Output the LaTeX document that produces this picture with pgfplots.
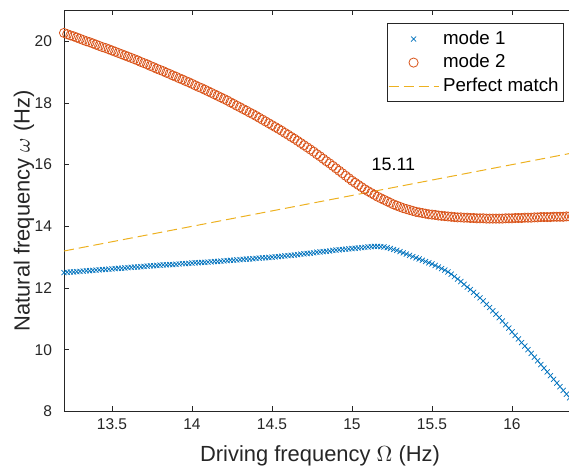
\documentclass[border=0pt]{standalone}
\usepackage{pgfplots}
\pgfplotsset{compat=1.18}
\usepackage{fontspec}
\setmainfont{Liberation Sans}

\definecolor{mblue}{rgb}{0,0.447,0.741}
\definecolor{morange}{rgb}{0.85,0.325,0.098}
\definecolor{myellow}{rgb}{0.929,0.694,0.125}
\definecolor{axgray}{rgb}{0.15,0.15,0.15}

% mode 1 (crosses)
\pgfplotstableread{
x y
13.20 12.50
13.22 12.51
13.24 12.52
13.26 12.52
13.28 12.53
13.30 12.54
13.32 12.55
13.34 12.56
13.36 12.56
13.38 12.57
13.40 12.58
13.42 12.59
13.44 12.60
13.46 12.60
13.48 12.61
13.50 12.62
13.52 12.63
13.54 12.64
13.56 12.64
13.58 12.65
13.60 12.66
13.62 12.67
13.64 12.68
13.66 12.68
13.68 12.69
13.70 12.70
13.72 12.71
13.74 12.72
13.76 12.72
13.78 12.73
13.80 12.74
13.82 12.75
13.84 12.75
13.86 12.76
13.88 12.76
13.90 12.77
13.92 12.78
13.94 12.79
13.96 12.79
13.98 12.80
14.00 12.81
14.02 12.82
14.04 12.82
14.06 12.83
14.08 12.83
14.10 12.84
14.12 12.85
14.14 12.86
14.16 12.86
14.18 12.87
14.20 12.88
14.22 12.89
14.24 12.90
14.26 12.90
14.28 12.91
14.30 12.92
14.32 12.93
14.34 12.94
14.36 12.94
14.38 12.95
14.40 12.96
14.42 12.97
14.44 12.98
14.46 12.98
14.48 12.99
14.50 13.00
14.52 13.01
14.54 13.02
14.56 13.03
14.58 13.04
14.60 13.05
14.62 13.06
14.64 13.07
14.66 13.08
14.68 13.10
14.70 13.11
14.72 13.12
14.74 13.13
14.76 13.14
14.78 13.16
14.80 13.17
14.82 13.18
14.84 13.19
14.86 13.20
14.88 13.22
14.90 13.23
14.92 13.24
14.94 13.25
14.96 13.26
14.98 13.27
15.00 13.28
15.02 13.29
15.04 13.30
15.06 13.31
15.08 13.32
15.10 13.33
15.12 13.34
15.14 13.35
15.16 13.35
15.18 13.34
15.20 13.33
15.22 13.31
15.24 13.28
15.26 13.25
15.28 13.22
15.30 13.18
15.32 13.14
15.34 13.10
15.36 13.06
15.38 13.02
15.40 12.98
15.42 12.94
15.44 12.90
15.46 12.86
15.48 12.82
15.50 12.78
15.52 12.73
15.54 12.68
15.56 12.63
15.58 12.58
15.60 12.52
15.62 12.45
15.64 12.37
15.66 12.29
15.68 12.21
15.70 12.12
15.72 12.03
15.74 11.95
15.76 11.86
15.78 11.77
15.80 11.68
15.82 11.58
15.84 11.47
15.86 11.37
15.88 11.26
15.90 11.15
15.92 11.04
15.94 10.93
15.96 10.81
15.98 10.70
16.00 10.58
16.02 10.46
16.04 10.35
16.06 10.23
16.08 10.12
16.10 10.00
16.12 9.88
16.14 9.76
16.16 9.64
16.18 9.52
16.20 9.40
16.22 9.28
16.24 9.16
16.26 9.04
16.28 8.92
16.30 8.80
16.32 8.68
16.34 8.56
16.36 8.44
16.38 8.32
}\modeone

% mode 2 (circles)
\pgfplotstableread{
x y
13.20 20.27
13.22 20.23
13.24 20.19
13.26 20.16
13.28 20.12
13.30 20.08
13.32 20.04
13.34 20.00
13.36 19.97
13.38 19.93
13.40 19.89
13.42 19.85
13.44 19.81
13.46 19.78
13.48 19.74
13.50 19.70
13.52 19.66
13.54 19.62
13.56 19.58
13.58 19.54
13.60 19.50
13.62 19.46
13.64 19.42
13.66 19.38
13.68 19.33
13.70 19.29
13.72 19.25
13.74 19.20
13.76 19.16
13.78 19.11
13.80 19.07
13.82 19.03
13.84 18.98
13.86 18.94
13.88 18.89
13.90 18.85
13.92 18.80
13.94 18.76
13.96 18.71
13.98 18.67
14.00 18.62
14.02 18.57
14.04 18.52
14.06 18.48
14.08 18.43
14.10 18.38
14.12 18.33
14.14 18.28
14.16 18.23
14.18 18.18
14.20 18.13
14.22 18.08
14.24 18.02
14.26 17.97
14.28 17.91
14.30 17.86
14.32 17.80
14.34 17.75
14.36 17.69
14.38 17.64
14.40 17.58
14.42 17.52
14.44 17.46
14.46 17.40
14.48 17.34
14.50 17.28
14.52 17.22
14.54 17.16
14.56 17.10
14.58 17.03
14.60 16.97
14.62 16.90
14.64 16.84
14.66 16.77
14.68 16.70
14.70 16.63
14.72 16.56
14.74 16.49
14.76 16.42
14.78 16.34
14.80 16.27
14.82 16.19
14.84 16.11
14.86 16.04
14.88 15.96
14.90 15.88
14.92 15.80
14.94 15.72
14.96 15.64
14.98 15.56
15.00 15.48
15.02 15.41
15.04 15.34
15.06 15.27
15.08 15.20
15.10 15.14
15.12 15.08
15.14 15.02
15.16 14.96
15.18 14.91
15.20 14.86
15.22 14.81
15.24 14.76
15.26 14.71
15.28 14.67
15.30 14.63
15.32 14.59
15.34 14.56
15.36 14.53
15.38 14.50
15.40 14.47
15.42 14.45
15.44 14.43
15.46 14.41
15.48 14.39
15.50 14.38
15.52 14.37
15.54 14.35
15.56 14.34
15.58 14.33
15.60 14.32
15.62 14.31
15.64 14.30
15.66 14.29
15.68 14.29
15.70 14.28
15.72 14.28
15.74 14.27
15.76 14.27
15.78 14.26
15.80 14.26
15.82 14.26
15.84 14.25
15.86 14.25
15.88 14.25
15.90 14.25
15.92 14.25
15.94 14.25
15.96 14.26
15.98 14.26
16.00 14.26
16.02 14.27
16.04 14.27
16.06 14.27
16.08 14.28
16.10 14.28
16.12 14.28
16.14 14.29
16.16 14.29
16.18 14.30
16.20 14.30
16.22 14.30
16.24 14.30
16.26 14.31
16.28 14.31
16.30 14.31
16.32 14.31
16.34 14.32
16.36 14.32
16.38 14.32
}\modetwo

\begin{document}
\begin{tikzpicture}
\begin{axis}[
    name=ax,
    scale only axis,
    width=256bp, height=200.5bp,
    xmin=13.2, xmax=16.4,
    ymin=8, ymax=21,
    xtick={13.5,14,14.5,15,15.5,16},
    ytick={8,10,12,14,16,18,20},
    /pgf/number format/assume math mode=true,
    tick align=inside,
    major tick length=2.5bp,
    axis line style={axgray, line width=0.4pt},
    every tick/.style={axgray, line width=0.4pt},
    tick label style={font=\fontsize{7.8}{9}\selectfont, text=axgray},
    yticklabel style={xshift=-2.5bp},
    label style={font=\fontsize{11}{13}\selectfont, text=axgray},
    xlabel={Driving frequency $\Omega$ (Hz)},
    ylabel={Natural frequency $\omega$ (Hz)},
    xlabel style={at={(axis description cs:0.5,-0.11)}, anchor=center},
    ylabel style={at={(axis description cs:-0.078,0.5)}, anchor=center},
    legend cell align=left,
    legend style={
        at={(axis description cs:0.9765,0.9676)}, anchor=north east,
        font=\fontsize{9.4}{11}\selectfont,
        draw=axgray, line width=0.4pt,
        inner xsep=0.5bp, inner ysep=1.5bp,
        row sep=-0.5bp,
    },
    legend image code/.code={\draw[mark repeat=2,mark phase=2] plot coordinates {(0bp,0bp) (12.5bp,0bp) (25bp,0bp)};},
]
\addplot[only marks, mark=x, mark size=1.8bp, mblue, line width=0.35pt] table {\modeone};
\addlegendentry{mode 1}
\addplot[only marks, mark=o, mark size=2.3bp, morange, line width=0.4pt] table {\modetwo};
\addlegendentry{mode 2}
\addplot[myellow, line width=0.5pt, dash pattern=on 5bp off 2.5bp] coordinates {(13.2,13.2) (16.4,16.4)};
\addlegendentry{Perfect match}
\node[anchor=west, font=\fontsize{9}{11}\selectfont, inner sep=0pt] at (axis cs:15.12,16) {15.11};
\end{axis}
\pgfresetboundingbox
\path ([shift={(-32bp,-30.3bp)}]ax.south west) rectangle +(284.5bp,236bp);
\end{tikzpicture}
\end{document}
